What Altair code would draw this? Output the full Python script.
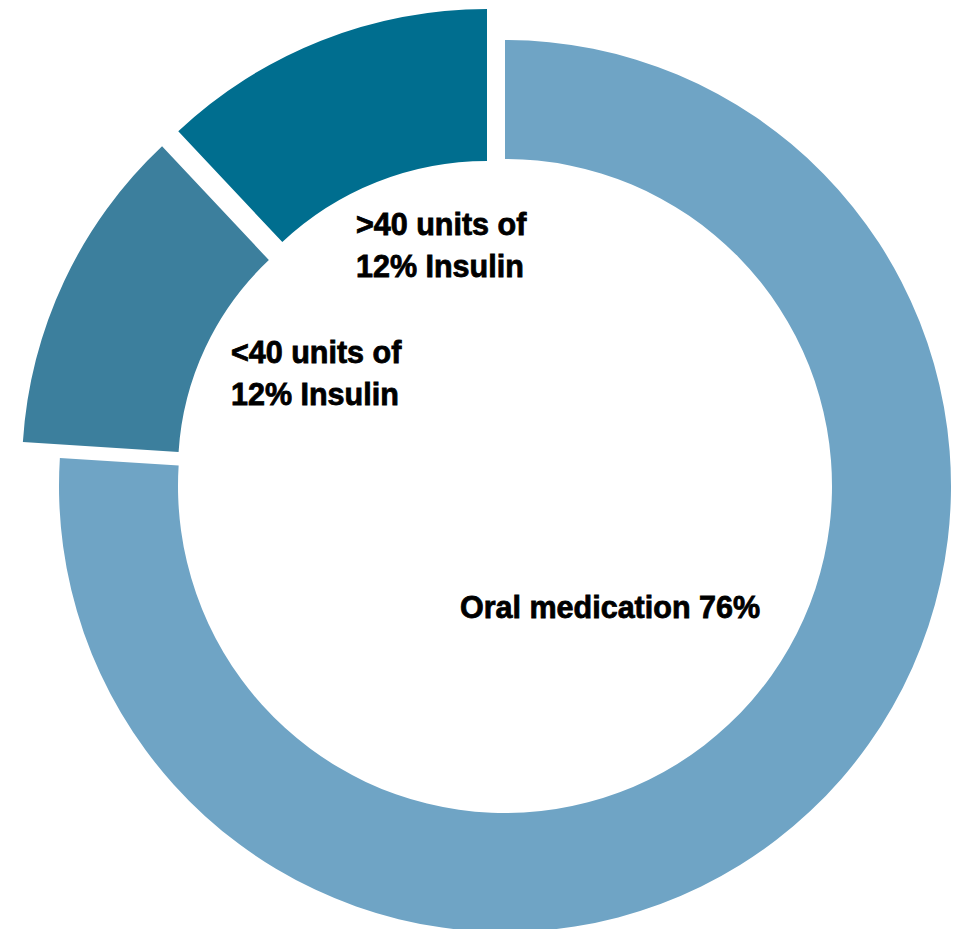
import math

import altair as alt
import pandas as pd

# Share of patients by treatment type
categories = ["Oral medication", "<40 units of Insulin", ">40 units of Insulin"]
shares = [76, 12, 12]
label_templates = ["Oral medication {}%", "<40 units of\n{}% Insulin", ">40 units of\n{}% Insulin"]
colors = ["#6fa4c5", "#3c7f9d", "#006e8f"]

# Plot area; the ring is centred in it
W, H = 890, 880

# Ring radii per slice and how far each slice is pulled out of the ring (px)
slice_style = {
    "Oral medication": dict(outer=446, inner=327, dx=0, dy=0),
    "<40 units of Insulin": dict(outer=444, inner=288, dx=-39, dy=-16),
    ">40 units of Insulin": dict(outer=451, inner=299, dx=-18, dy=-26),
}
# Label anchor (left edge, first baseline) relative to the ring centre
label_style = {
    "Oral medication": dict(dx=-45, dy=132),
    "<40 units of Insulin": dict(dx=-274, dy=-123),
    ">40 units of Insulin": dict(dx=-149, dy=-251),
}

slices = pd.DataFrame({"category": categories, "share": shares, "order": range(len(categories))})
slices["outer"] = [slice_style[c]["outer"] for c in categories]
slices["inner"] = [slice_style[c]["inner"] for c in categories]
slices["cx"] = [W / 2 + slice_style[c]["dx"] for c in categories]
slices["cy"] = [H / 2 + slice_style[c]["dy"] for c in categories]

labels = pd.DataFrame({
    "category": categories,
    "text": [t.format(s) for t, s in zip(label_templates, shares)],
})
labels["lx"] = [W / 2 + label_style[c]["dx"] for c in categories]
labels["ly"] = [H / 2 + label_style[c]["dy"] for c in categories]

arcs = (
    alt.Chart(slices)
    .transform_window(cum="sum(share)", sort=[alt.SortField("order")], frame=[None, 0])
    .transform_calculate(start="datum.cum - datum.share")
    .mark_arc(stroke=None)
    .encode(
        theta=alt.Theta("start:Q", scale=alt.Scale(domain=[0, 100], range=[0, 2 * math.pi])),
        theta2="cum:Q",
        radius=alt.Radius("outer:Q", scale=None),
        radius2="inner:Q",
        x=alt.X("cx:Q", scale=None),
        y=alt.Y("cy:Q", scale=None),
        color=alt.Color("category:N", scale=alt.Scale(domain=categories, range=colors), legend=None),
    )
)

# Heavy black labels (a thin outline gives the extra-bold look)
text = (
    alt.Chart(labels)
    .mark_text(
        font="Liberation Sans",
        fontWeight="bold",
        fontSize=30.5,
        color="#000000",
        stroke="#000000",
        strokeWidth=0.8,
        align="left",
        baseline="alphabetic",
        lineBreak="\n",
        lineHeight=42,
    )
    .encode(
        x=alt.X("lx:Q", scale=None),
        y=alt.Y("ly:Q", scale=None),
        text="text:N",
    )
)

chart = (
    alt.layer(arcs, text)
    .properties(
        width=W,
        height=H,
        autosize=alt.AutoSizeParams(type="none"),
        padding={"left": 60, "top": 46, "right": 14, "bottom": 3},
        background="white",
    )
    .configure_view(stroke=None)
)

chart.save("out.html", embed_options={"renderer": "svg", "actions": False})
